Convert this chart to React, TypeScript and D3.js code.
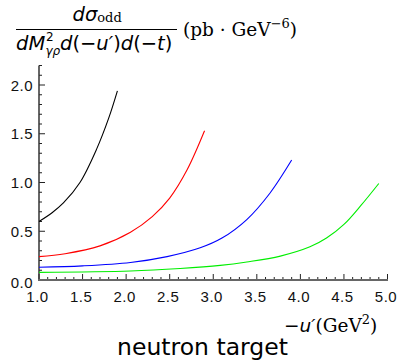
import React, { useRef, useEffect } from "react";
import * as d3 from "d3";

// values: [-u', cross section]
const blackCurve: [number, number][] = [
  [1.0, 0.6], [1.15, 0.69], [1.28, 0.79], [1.47, 1.0], [1.66, 1.34], [1.8, 1.66], [1.9, 1.94],
];
const redCurve: [number, number][] = [
  [1.0, 0.24], [1.3, 0.27], [1.7, 0.35], [2.05, 0.49], [2.3, 0.65], [2.5, 0.84], [2.7, 1.13], [2.9, 1.53],
];
const blueCurve: [number, number][] = [
  [1.0, 0.13], [1.5, 0.145], [2.05, 0.18], [2.47, 0.24], [2.85, 0.33], [3.1, 0.43],
  [3.385, 0.62], [3.65, 0.89], [3.9, 1.23],
];
const greenCurve: [number, number][] = [
  [1.0, 0.078], [2.05, 0.092], [2.62, 0.118], [3.08, 0.15], [3.385, 0.185], [3.77, 0.245],
  [4.11, 0.34], [4.3, 0.43], [4.5, 0.57], [4.7, 0.77], [4.9, 0.99],
];
const series = [
  { values: blackCurve, color: "#000000" },
  { values: redCurve, color: "#ff0000" },
  { values: blueCurve, color: "#0000ff" },
  { values: greenCurve, color: "#00ee00" },
];
const xTicks = [1.0, 1.5, 2.0, 2.5, 3.0, 3.5, 4.0, 4.5, 5.0];
const yTicks = [0.0, 0.5, 1.0, 1.5, 2.0];

const App = () => {
  const gRef = useRef<SVGGElement>(null);
  const width = 399;
  const height = 361;

  useEffect(() => {
    const g = d3.select(gRef.current);
    g.selectAll("*").remove();

    const x = d3.scaleLinear().domain([1, 5]).range([39, 387.5]);
    const y = d3.scaleLinear().domain([0, 2.2]).range([280, 65.5]);

    // minor ticks every 0.1, longer at every 0.5
    const minorX = d3.range(10, 51).map((v) => v / 10);
    const minorY = d3.range(0, 23).map((v) => v / 10);
    const isMajor = (d: number) => Math.abs(d * 2 - Math.round(d * 2)) < 1e-6;

    g.selectAll(".xminor")
      .data(minorX)
      .enter()
      .append("line")
      .attr("x1", (d) => x(d))
      .attr("x2", (d) => x(d))
      .attr("y1", 280)
      .attr("y2", (d) => (isMajor(d) ? 274 : 277))
      .attr("stroke", "#222")
      .attr("stroke-width", 1);

    g.selectAll(".yminor")
      .data(minorY)
      .enter()
      .append("line")
      .attr("y1", (d) => y(d))
      .attr("y2", (d) => y(d))
      .attr("x1", 39)
      .attr("x2", (d) => (isMajor(d) ? 45 : 42))
      .attr("stroke", "#222")
      .attr("stroke-width", 1);

    // axis lines
    g.append("line")
      .attr("x1", 39).attr("x2", 39)
      .attr("y1", y(2.2)).attr("y2", 280)
      .attr("stroke", "#333").attr("stroke-width", 1.5);
    g.append("line")
      .attr("x1", 38).attr("x2", 388)
      .attr("y1", 280).attr("y2", 280)
      .attr("stroke", "#666").attr("stroke-width", 2);

    // tick labels
    g.selectAll(".xlab")
      .data(xTicks)
      .enter()
      .append("text")
      .attr("x", (d) => x(d) - 1.5)
      .attr("y", 302)
      .attr("text-anchor", "middle")
      .attr("font-family", "Liberation Sans")
      .attr("font-size", 15)
      .attr("letter-spacing", 0.5)
      .attr("fill", "#111")
      .text((d) => d.toFixed(1));

    g.selectAll(".ylab")
      .data(yTicks)
      .enter()
      .append("text")
      .attr("x", 33)
      .attr("y", (d) => y(d) + 5.5 + (d === 0 ? 2 : 0))
      .attr("text-anchor", "end")
      .attr("font-family", "Liberation Sans")
      .attr("font-size", 15)
      .attr("letter-spacing", 0.5)
      .attr("fill", "#111")
      .text((d) => d.toFixed(1));

    // curves
    const line = d3
      .line<[number, number]>()
      .x((d) => x(d[0]))
      .y((d) => y(d[1]))
      .curve(d3.curveCatmullRom.alpha(0.5));

    series.forEach((s) => {
      g.append("path")
        .datum(s.values)
        .attr("fill", "none")
        .attr("stroke", s.color)
        .attr("stroke-width", 1.1)
        .attr("d", line);
    });
  }, []);

  const it = { fontFamily: "DejaVu Sans", fontStyle: "italic" as const };
  const rm = { fontFamily: "DejaVu Serif", fontStyle: "normal" as const };

  return (
    <svg width={width} height={height} style={{ position: "absolute", left: 0, top: 0 }}>
      <g ref={gRef} />
      {/* y label: fraction */}
      <text x={72.5} y={20.5} fontSize={19.5} style={it}>
        dσ
        <tspan style={rm} fontSize={13} dy={1.5}>odd</tspan>
      </text>
      <line x1={16} x2={177} y1={29.5} y2={29.5} stroke="#000" strokeWidth={1.2} />
      <text x={16} y={50} fontSize={19.5} style={it}>dM</text>
      <text x={46} y={41} fontSize={12} fontFamily="DejaVu Sans">2</text>
      <text x={45.5} y={54.5} fontSize={12} style={it}>γρ</text>
      <text x={60} y={50} fontSize={19.5} style={it}>
        d<tspan fontStyle="normal">(−</tspan>u′<tspan fontStyle="normal">)</tspan>d<tspan fontStyle="normal">(−</tspan>t<tspan fontStyle="normal">)</tspan>
      </text>
      <text x={183} y={35.5} fontSize={18.5} style={rm}>
        (pb · GeV<tspan fontSize={13} dy={-8}>−6</tspan><tspan dy={8}>)</tspan>
      </text>
      {/* x label */}
      <text x={284} y={332} fontSize={18.5}>
        <tspan style={it}>
          <tspan fontStyle="normal">−</tspan>u′
        </tspan>
        <tspan style={rm}>(GeV</tspan>
        <tspan style={rm} fontSize={13} dy={-8}>2</tspan>
        <tspan style={rm} dy={8}>)</tspan>
      </text>
      <text x={202.5} y={355} fontSize={23.5} fontFamily="DejaVu Sans" textAnchor="middle">
        neutron target
      </text>
    </svg>
  );
};

export default App;
